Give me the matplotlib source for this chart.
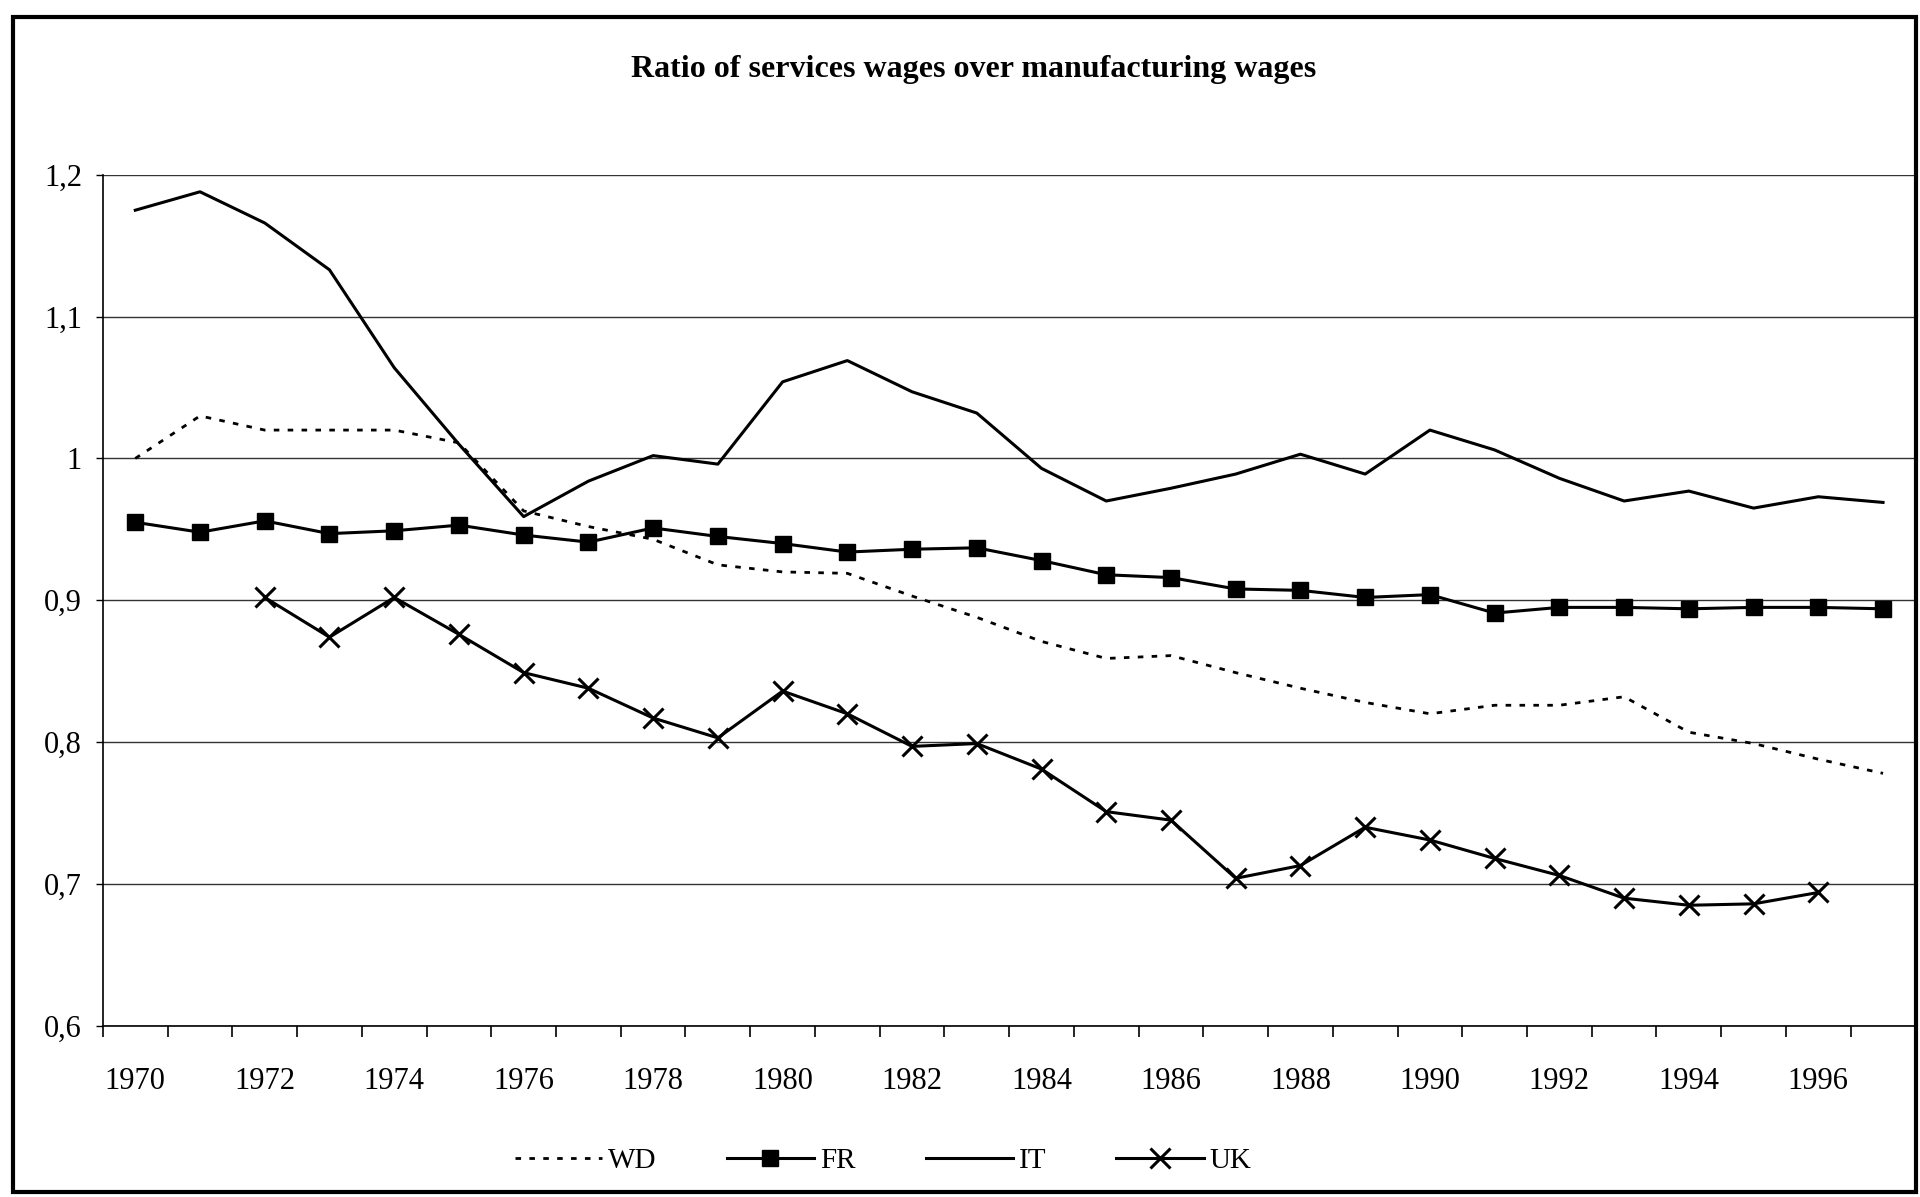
import matplotlib
matplotlib.use("Agg")
import matplotlib.pyplot as plt
from matplotlib.patches import Rectangle
from matplotlib.ticker import FixedLocator, NullFormatter, FuncFormatter

plt.rcParams['font.family'] = ['Liberation Serif', 'DejaVu Serif']

years = list(range(1970, 1998))
wd = [1.000, 1.030, 1.020, 1.020, 1.020, 1.011, 0.963, 0.952, 0.943, 0.925,
      0.920, 0.919, 0.903, 0.888, 0.871, 0.859, 0.861, 0.849, 0.838, 0.828,
      0.820, 0.826, 0.826, 0.832, 0.807, 0.799, 0.788, 0.778]
fr = [0.955, 0.948, 0.956, 0.947, 0.949, 0.953, 0.946, 0.941, 0.951, 0.945,
      0.940, 0.934, 0.936, 0.937, 0.928, 0.918, 0.916, 0.908, 0.907, 0.902,
      0.904, 0.891, 0.895, 0.895, 0.894, 0.895, 0.895, 0.894]
it = [1.175, 1.188, 1.166, 1.133, 1.064, 1.010, 0.959, 0.984, 1.002, 0.996,
      1.054, 1.069, 1.047, 1.032, 0.993, 0.970, 0.979, 0.989, 1.003, 0.989,
      1.020, 1.006, 0.986, 0.970, 0.977, 0.965, 0.973, 0.969]
uk_years = list(range(1972, 1997))
uk = [0.902, 0.874, 0.902, 0.876, 0.849, 0.838, 0.817, 0.803, 0.836, 0.820,
      0.797, 0.799, 0.781, 0.751, 0.745, 0.704, 0.713, 0.740, 0.731, 0.718,
      0.706, 0.690, 0.685, 0.686, 0.694]

title = "Ratio of services wages over manufacturing wages"
yticks = [0.6, 0.7, 0.8, 0.9, 1.0, 1.1, 1.2]
xlabel_years = list(range(1970, 1997, 2))

fig = plt.figure(figsize=(19.2, 11.97), dpi=100)
ax = fig.add_axes([0.0536, 0.143, 0.944, 0.711])

ax.plot(years, wd, color='black', lw=2.0, linestyle=(0, (2, 3)), label='WD', zorder=3)
ax.plot(years, fr, color='black', lw=2.2, marker='s', markersize=12, label='FR', zorder=4)
ax.plot(years, it, color='black', lw=2.2, label='IT', zorder=3)
ax.plot(uk_years, uk, color='black', lw=2.2, marker='x', markersize=14,
        markeredgewidth=2.2, label='UK', zorder=4)

ax.set_xlim(1969.5, 1997.5)
ax.set_ylim(0.6, 1.2)

# Category-style x axis: ticks at boundaries, labels at centres
ax.xaxis.set_major_locator(FixedLocator([y + 0.5 for y in range(1969, 1998)]))
ax.xaxis.set_major_formatter(NullFormatter())
ax.xaxis.set_minor_locator(FixedLocator(xlabel_years))
ax.xaxis.set_minor_formatter(FuncFormatter(lambda v, p: f"{int(round(v))}"))
ax.tick_params(axis='x', which='major', direction='out', length=8, width=1.2, color='black')
ax.tick_params(axis='x', which='minor', length=0, pad=30, labelsize=22)

ax.set_yticks(yticks)
ax.yaxis.set_major_formatter(FuncFormatter(lambda v, p: f"{v:g}".replace('.', ',')))
ax.tick_params(axis='y', direction='out', length=5, width=1, pad=10, labelsize=22)

ax.grid(axis='y', color='#333333', lw=1.0, zorder=1)
for s in ax.spines.values():
    s.set_color('black')
    s.set_linewidth(1.2)
ax.spines['top'].set_visible(False)

fig.text(0.507, 0.942, title, ha='center', va='center', fontsize=23, fontweight='bold')

leg = fig.legend(loc='center', bbox_to_anchor=(0.46, 0.03), ncol=4, frameon=False,
                 fontsize=21, handlelength=3.0, handletextpad=0.2, columnspacing=2.4)

fig.patches.append(Rectangle((0.007, 0.004), 0.991, 0.982, transform=fig.transFigure,
                             fill=False, edgecolor='black', lw=3))

fig.savefig('out.png', dpi=100)
